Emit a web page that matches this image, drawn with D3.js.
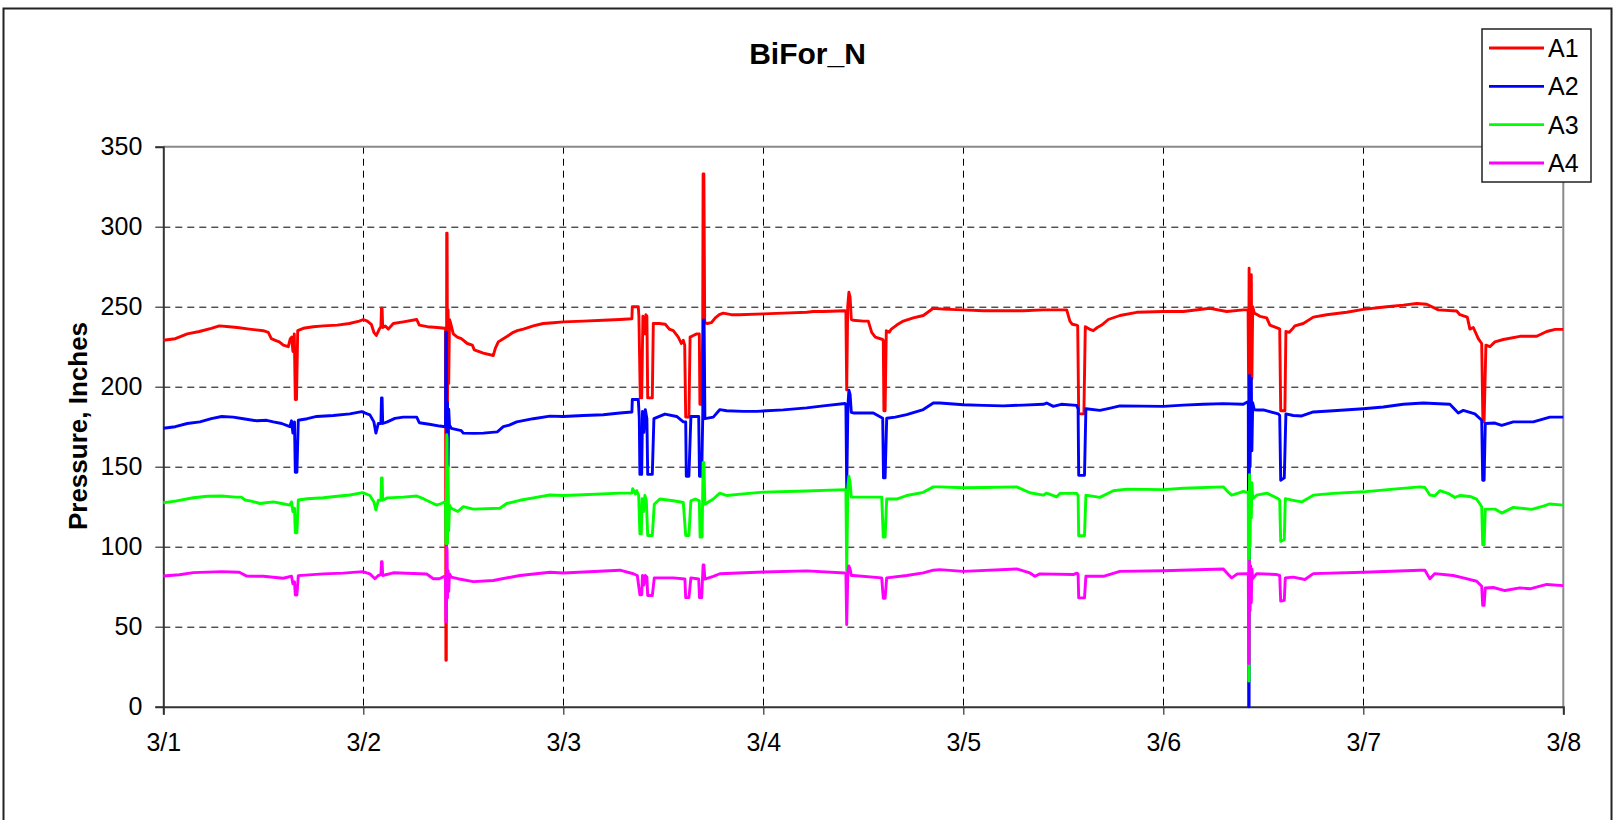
<!DOCTYPE html>
<html>
<head>
<meta charset="utf-8">
<script src="https://cdn.jsdelivr.net/npm/d3@7/dist/d3.min.js"></script>
<style>
  html, body { margin: 0; padding: 0; background: #fff; }
  svg { display: block; font-family: "Liberation Sans", Arial, sans-serif; }
</style>
</head>
<body>
<svg id="chart" width="1616" height="820"></svg>
<script>
// Pressure readings, one week of logging. Each point is [days since 3/1 00:00, inches].
const a1 = [[0,229],[0.06,230],[0.12,233],[0.18,234.5],[0.24,236.5],[0.28,238],[0.33,237.5],[0.37,237],[0.43,236],[0.50,235],[0.525,234],[0.54,230],[0.56,229],[0.58,228],[0.60,226],[0.625,225],[0.635,230],[0.642,231],[0.648,222],[0.655,233],[0.660,192],[0.666,192],[0.672,235],[0.70,236.5],[0.75,237.5],[0.80,238],[0.87,238.5],[0.93,239.5],[0.98,241],[1.00,242],[1.02,241],[1.04,239],[1.053,234],[1.065,232],[1.08,236],[1.088,237.5],[1.091,249],[1.094,249],[1.097,237],[1.11,238],[1.125,236],[1.15,239.5],[1.20,240.5],[1.267,242],[1.28,238.5],[1.32,237.5],[1.37,237],[1.408,236.5],
  [1.411,236],[1.413,29],[1.415,29],[1.417,296],[1.419,296],[1.421,190],[1.424,248],[1.427,202],[1.431,242],[1.436,240],[1.45,233],[1.47,231],[1.49,230],[1.52,227],[1.545,226],[1.555,223],[1.60,221],[1.65,219.5],[1.66,224],[1.675,228],[1.70,230],[1.72,231.5],[1.75,234],[1.77,235],[1.80,236],[1.85,238],[1.90,239.5],[1.95,240],[2.00,240.5],[2.10,241],[2.20,241.5],[2.283,242],[2.343,242.5],[2.345,250],[2.375,250],[2.378,244],[2.385,193],[2.392,193],[2.398,244],[2.404,236],[2.408,233],[2.413,245],[2.418,244],[2.422,193],[2.445,193],[2.45,239.5],[2.48,239.5],[2.51,239],[2.53,236],[2.55,235],[2.575,231],[2.59,227],[2.60,229],[2.607,226],[2.612,181],[2.628,181],[2.634,231],[2.65,232],[2.667,233],[2.68,233],[2.683,189],[2.692,189],[2.697,236],[2.699,333],[2.703,333],[2.707,240],[2.72,239.5],[2.74,240],[2.76,243],[2.78,245],[2.80,246],[2.84,245],[2.88,245],[3.00,245.5],[3.10,246],[3.217,246.5],[3.25,247],[3.30,247],[3.408,247.5],[3.413,247],[3.417,198],[3.422,250],[3.428,259],[3.434,256],[3.44,242],[3.45,241.5],[3.50,241],[3.525,241],[3.542,234],[3.56,231],[3.597,229.5],[3.600,229],[3.603,185],[3.609,185],[3.615,235],[3.63,234],[3.64,236],[3.667,238.5],[3.70,241],[3.75,243],[3.80,244.5],[3.85,249],[3.90,248.5],[4.00,248],[4.10,247.5],[4.20,247.5],[4.30,247.5],[4.40,248],[4.517,248],[4.533,241],[4.545,239],[4.567,238.5],[4.572,238],[4.577,183],[4.603,183],[4.61,237.5],[4.63,236],[4.65,235],[4.67,237],[4.692,238.5],[4.725,242],[4.783,244.5],[4.867,246.5],[5.00,247],[5.10,247],[5.233,249],[5.317,247],[5.40,248],[5.424,248],
  [5.427,190],[5.429,274],[5.431,200],[5.434,246],[5.437,190],[5.44,270],[5.443,205],[5.447,250],[5.455,246],[5.483,244],[5.517,243],[5.533,238.5],[5.575,236.5],[5.582,236],[5.587,185],[5.608,185],[5.613,234.5],[5.63,234],[5.645,236],[5.658,238],[5.70,239.5],[5.75,243.5],[5.817,245],[5.917,246.5],[6.00,248.3],[6.117,250],[6.20,251],[6.267,252],[6.317,251.5],[6.375,248],[6.467,247.3],[6.483,245],[6.52,243.5],[6.533,236],[6.55,237],[6.575,230],[6.592,227],[6.598,178],[6.604,178],[6.613,226],[6.633,225],[6.658,228],[6.70,229.5],[6.783,231.5],[6.867,231.5],[6.917,234.5],[6.96,235.8],[7.00,235.8]];

const a2 = [[0,174],[0.06,175],[0.12,177],[0.183,178],[0.24,180],[0.292,181.4],[0.35,181],[0.40,180],[0.467,178.7],[0.517,179],[0.55,178],[0.592,177],[0.633,175],[0.641,178.7],[0.648,171],[0.656,178],[0.660,146.5],[0.668,146.5],[0.675,179],[0.72,180],[0.767,181.4],[0.85,182],[0.933,183],[0.992,184.4],[1.02,183],[1.033,182.4],[1.053,178],[1.063,171],[1.075,177],[1.088,177],[1.091,193],[1.094,193],[1.097,177],[1.12,178],[1.158,180.2],[1.20,181],[1.267,181],[1.28,177.5],[1.33,176.5],[1.383,175.4],[1.408,175],
  [1.411,175],[1.413,234],[1.415,234],[1.417,137],[1.419,137],[1.421,190],[1.424,150],[1.427,186],[1.431,176],[1.44,174],[1.473,173],[1.49,172.5],[1.50,171],[1.555,170.8],[1.60,171],[1.67,171.8],[1.70,175],[1.73,176],[1.767,178],[1.85,180],[1.933,181.6],[2.00,181.4],[2.10,182],[2.20,182.5],[2.283,183.6],[2.343,184.2],[2.345,192],[2.375,192],[2.380,180],[2.383,145.2],[2.392,145.2],[2.396,184.6],[2.403,171.5],[2.410,185.7],[2.418,180],[2.422,145.2],[2.445,145.2],[2.453,180],[2.508,182.9],[2.567,181.4],[2.60,178],[2.612,178],[2.615,144],[2.628,144],[2.638,181.4],[2.677,181.4],[2.681,144],[2.692,144],[2.697,180],[2.701,241.7],[2.704,241.7],[2.708,180],[2.75,181],[2.783,185.7],[2.817,185],[2.90,184.6],[2.967,184.6],[3.10,185.5],[3.217,186.8],[3.30,188],[3.408,189.5],[3.413,189],[3.417,136],[3.423,188],[3.428,197.8],[3.434,195],[3.44,184],[3.45,183.6],[3.55,183.6],[3.597,180.3],[3.601,143],[3.609,143],[3.617,180.3],[3.66,181],[3.717,182.5],[3.80,185.7],[3.85,189.8],[3.883,189.8],[4.0,188.75],[4.1,188.3],[4.2,188],[4.3,188.5],[4.4,189],[4.417,189.8],[4.45,187.7],[4.49,189],[4.567,188.3],[4.574,186],[4.577,144.6],[4.606,144.6],[4.613,186.25],[4.683,185.2],[4.73,186.5],[4.783,188],[5.0,187.7],[5.1,188.5],[5.2,189],[5.3,189.4],[5.4,189],[5.42,190.4],
  [5.425,190],[5.427,0],[5.429,0],[5.431,207],[5.434,150],[5.437,190],[5.44,205],[5.443,160],[5.447,190],[5.455,185.5],[5.475,185.4],[5.50,185.5],[5.575,183],[5.582,182],[5.587,141.5],[5.605,143],[5.613,183],[5.65,182],[5.692,181.7],[5.75,184.2],[5.85,185],[6.0,186.25],[6.1,187.3],[6.2,189],[6.3,189.8],[6.433,189],[6.475,183.5],[6.5,185.2],[6.558,183],[6.592,179],[6.597,141.5],[6.604,141.5],[6.61,177],[6.658,177.3],[6.692,175.8],[6.75,178],[6.85,178],[6.933,181],[7.0,181]];

const a3 = [[0,127.5],[0.06,128.5],[0.15,130.6],[0.22,131.5],[0.292,131.7],[0.36,131],[0.39,131],[0.408,129.2],[0.44,128.5],[0.483,127],[0.55,128],[0.592,127],[0.633,126],[0.641,128],[0.648,122],[0.656,124],[0.660,108.7],[0.668,108.7],[0.675,129.2],[0.72,130],[0.8,130.6],[0.87,131.5],[0.933,132.3],[0.997,133.8],[1.033,132],[1.053,128],[1.063,123],[1.075,129],[1.088,129],[1.091,143],[1.094,143],[1.097,129],[1.12,130.5],[1.2,131],[1.267,131.7],[1.30,130],[1.342,127.5],[1.367,126],[1.39,127],[1.408,128],
  [1.411,128],[1.413,102],[1.415,102],[1.417,170],[1.419,168],[1.421,102],[1.424,150],[1.427,110],[1.431,126],[1.44,124],[1.473,122],[1.5,125],[1.55,123.5],[1.683,124],[1.717,127],[1.783,129],[1.85,130.5],[1.933,132.3],[2.0,132],[2.1,132.5],[2.283,133.5],[2.343,133.5],[2.347,136.3],[2.36,133],[2.367,135],[2.377,132],[2.383,108],[2.390,108],[2.394,130],[2.401,122],[2.408,132],[2.415,129],[2.422,107],[2.445,107],[2.455,126.5],[2.483,129.8],[2.55,128.7],[2.60,127.6],[2.612,107],[2.628,107],[2.638,128.7],[2.66,129.8],[2.68,128.7],[2.684,106],[2.694,106],[2.699,152.6],[2.703,152.6],[2.708,126.5],[2.75,129.8],[2.783,133.5],[2.817,132],[2.9,133],[3.0,134.1],[3.217,134.8],[3.408,135.7],[3.413,135],[3.417,85],[3.423,138],[3.428,144],[3.434,140],[3.44,131],[3.45,131],[3.592,131],[3.600,106],[3.609,106],[3.617,129.8],[3.667,129.8],[3.717,132],[3.8,134],[3.85,137.4],[3.883,137.4],[4.0,136.8],[4.1,137],[4.267,137.4],[4.333,133.7],[4.4,132.2],[4.417,133.5],[4.467,131.2],[4.483,133.3],[4.567,133.3],[4.574,132],[4.577,106.8],[4.606,106.8],[4.613,132.2],[4.683,130.8],[4.75,135],[4.817,136],[5.0,135.7],[5.1,136.5],[5.3,137.4],[5.325,134.1],[5.342,132.2],[5.375,133.5],[5.4,134.5],[5.42,134],
  [5.425,134],[5.427,16],[5.429,16],[5.431,145],[5.434,100],[5.437,140],[5.44,118],[5.443,140],[5.447,130],[5.467,132.2],[5.517,133.5],[5.575,130],[5.582,129],[5.587,103.3],[5.605,104.5],[5.61,130],[5.65,129],[5.692,128],[5.75,132.2],[5.85,133.3],[6.0,134.3],[6.15,136],[6.283,137.4],[6.308,137],[6.333,132.3],[6.358,131.8],[6.383,135],[6.43,133],[6.458,130.8],[6.483,132],[6.533,131.4],[6.567,129.7],[6.592,125],[6.597,101.2],[6.604,101.2],[6.61,123.5],[6.658,123.5],[6.692,121],[6.75,124.6],[6.842,123.3],[6.9,125.4],[6.933,126.7],[7.0,126]];

const a4 = [[0,81.7],[0.08,82.5],[0.15,83.8],[0.292,84.4],[0.38,84],[0.417,81.6],[0.5,81.5],[0.6,80.3],[0.641,81.6],[0.648,76.8],[0.656,78],[0.660,69.8],[0.668,69.8],[0.675,81.9],[0.8,83],[0.9,83.5],[0.997,84.4],[1.033,83],[1.058,80],[1.075,82],[1.088,82.5],[1.091,90.6],[1.094,90.6],[1.097,82],[1.15,83.7],[1.317,82.9],[1.35,80],[1.38,80],[1.408,81.6],
  [1.411,81],[1.413,53],[1.415,53],[1.417,100],[1.419,98],[1.421,68],[1.424,85],[1.427,72],[1.431,83],[1.44,81],[1.473,80],[1.55,78.2],[1.65,78.9],[1.783,82],[1.933,84],[2.0,83.6],[2.283,85.3],[2.35,83.1],[2.37,82],[2.383,70],[2.392,70],[2.396,82],[2.403,76],[2.41,82],[2.418,81],[2.422,69.5],[2.445,69.5],[2.455,80.5],[2.55,80.5],[2.608,79.8],[2.612,68.2],[2.628,68.2],[2.638,80.5],[2.677,79.8],[2.681,68.2],[2.692,68.2],[2.699,88.6],[2.703,88.6],[2.708,79.8],[2.75,81.5],[2.783,83.1],[3.0,84.2],[3.217,84.9],[3.408,83.6],[3.413,83],[3.417,51.3],[3.423,85],[3.428,88],[3.434,86],[3.44,82],[3.45,82],[3.592,80.5],[3.600,67.8],[3.609,67.8],[3.617,80.5],[3.717,82],[3.8,83.6],[3.85,85.3],[3.883,85.7],[4.0,84.6],[4.267,86.1],[4.333,83.6],[4.358,81.5],[4.383,83],[4.55,82.6],[4.567,83.5],[4.574,83],[4.577,68],[4.606,68],[4.613,81.5],[4.7,81.5],[4.783,84.6],[5.0,85],[5.3,86.1],[5.325,82.6],[5.342,80.5],[5.37,83],[5.42,83.2],
  [5.425,83],[5.427,27],[5.429,27],[5.431,91],[5.434,60],[5.437,88],[5.44,65],[5.443,86],[5.447,80],[5.467,83.2],[5.567,82.6],[5.582,82],[5.587,66],[5.605,66.5],[5.61,80.5],[5.65,81],[5.708,79.5],[5.75,83.2],[6.0,84],[6.283,85.3],[6.308,85.3],[6.333,79.9],[6.358,83.2],[6.45,82],[6.5,80.5],[6.567,78.4],[6.592,75.3],[6.597,63.3],[6.604,63.3],[6.61,74.2],[6.65,74.5],[6.708,72.6],[6.783,74.3],[6.833,73.7],[6.917,76.4],[7.0,75.7]];

const seriesNames = ["A1", "A2", "A3", "A4"];
const seriesColors = ["#ff0000", "#0000ff", "#00ff00", "#ff00ff"];
const yTicks = [0, 50, 100, 150, 200, 250, 300, 350];
const startDate = Date.UTC(2008, 2, 1);
const endDate = Date.UTC(2008, 2, 8);
const titleText = "BiFor_N";
const yTitle = "Pressure, Inches";

const allSeries = [a1, a2, a3, a4];

const svg = d3.select("#chart");
const plot = { left: 163.3, right: 1563.3, top: 146.7, bottom: 706.7 };
const DAY = 864e5;

const x = d3.scaleUtc().domain([new Date(startDate), new Date(endDate)]).range([plot.left, plot.right]);
const y = d3.scaleLinear().domain([0, 350]).range([plot.bottom, plot.top]);
const fmt = d3.utcFormat("%-m/%-d");
const dayTicks = d3.utcDay.range(new Date(startDate), new Date(endDate + 1));

svg.append("rect").attr("width", 1616).attr("height", 820).attr("fill", "#fff");

// chart frame
svg.append("rect")
  .attr("x", 3.5).attr("y", 8.5).attr("width", 1608).attr("height", 840)
  .attr("fill", "none").attr("stroke", "#222").attr("stroke-width", 2);

// title
svg.append("text")
  .attr("x", 807.5).attr("y", 64)
  .attr("text-anchor", "middle")
  .attr("font-size", 30).attr("font-weight", "bold")
  .text(titleText);

// dashed grid
const grid = svg.append("g").attr("stroke", "#000").attr("stroke-width", 1).attr("stroke-dasharray", "7,5");
grid.selectAll("line.h").data(yTicks.filter(v => v > 0 && v < 350)).join("line")
  .attr("x1", plot.left).attr("x2", plot.right)
  .attr("y1", d => y(d) + 0.5).attr("y2", d => y(d) + 0.5);
grid.selectAll("line.v").data(dayTicks.slice(1, -1)).join("line")
  .attr("y1", plot.top).attr("y2", plot.bottom)
  .attr("x1", d => Math.round(x(d)) + 0.5).attr("x2", d => Math.round(x(d)) + 0.5);

// plot frame: top and right in grey
svg.append("line").attr("x1", plot.left).attr("x2", plot.right).attr("y1", plot.top).attr("y2", plot.top)
  .attr("stroke", "#8a8a8a").attr("stroke-width", 2);
svg.append("line").attr("x1", plot.right).attr("x2", plot.right).attr("y1", plot.top).attr("y2", plot.bottom)
  .attr("stroke", "#8a8a8a").attr("stroke-width", 2);

// y axis
const yAxis = d3.axisLeft(y).tickValues(yTicks).tickSize(8).tickPadding(13);
const gy = svg.append("g").attr("transform", `translate(${plot.left},0)`).call(yAxis);
gy.select(".domain").attr("stroke", "#333").attr("stroke-width", 2);
gy.selectAll(".tick line").attr("stroke", "#333").attr("stroke-width", 1.2);
gy.selectAll(".tick text").attr("font-size", 25).attr("fill", "#000")
  .attr("font-family", "'Liberation Sans', Arial, sans-serif");

// x axis
const xAxis = d3.axisBottom(x).tickValues(dayTicks).tickFormat(fmt).tickSize(8).tickPadding(19);
const gx = svg.append("g").attr("transform", `translate(0,${plot.bottom})`).call(xAxis);
gx.select(".domain").attr("stroke", "#333").attr("stroke-width", 2);
gx.selectAll(".tick line").attr("stroke", "#333").attr("stroke-width", 1.2);
gx.selectAll(".tick text").attr("font-size", 25).attr("fill", "#000")
  .attr("font-family", "'Liberation Sans', Arial, sans-serif");

// y title
svg.append("text")
  .attr("transform", "translate(86.5,426) rotate(-90)")
  .attr("text-anchor", "middle")
  .attr("font-size", 26).attr("font-weight", "bold")
  .text(yTitle);

// series
const line = d3.line()
  .x(d => x(new Date(startDate + d[0] * DAY)))
  .y(d => y(d[1]));
svg.append("g").selectAll("path").data(allSeries).join("path")
  .attr("d", line)
  .attr("fill", "none")
  .attr("stroke", (d, i) => seriesColors[i])
  .attr("stroke-width", 2.9)
  .attr("stroke-linejoin", "round");

// legend
const lg = svg.append("g");
lg.append("rect").attr("x", 1482).attr("y", 29).attr("width", 109).attr("height", 153)
  .attr("fill", "#fff").attr("stroke", "#222").attr("stroke-width", 1.5);
const rows = lg.selectAll("g.row").data(seriesNames).join("g")
  .attr("transform", (d, i) => `translate(0,${48 + i * 38.33})`);
rows.append("line").attr("x1", 1489).attr("x2", 1544).attr("y1", 0).attr("y2", 0)
  .attr("stroke", (d, i) => seriesColors[i]).attr("stroke-width", 2.9);
rows.append("text").attr("x", 1548).attr("y", 0).attr("dy", "0.36em")
  .attr("font-size", 25).text(d => d);
</script>
</body>
</html>
